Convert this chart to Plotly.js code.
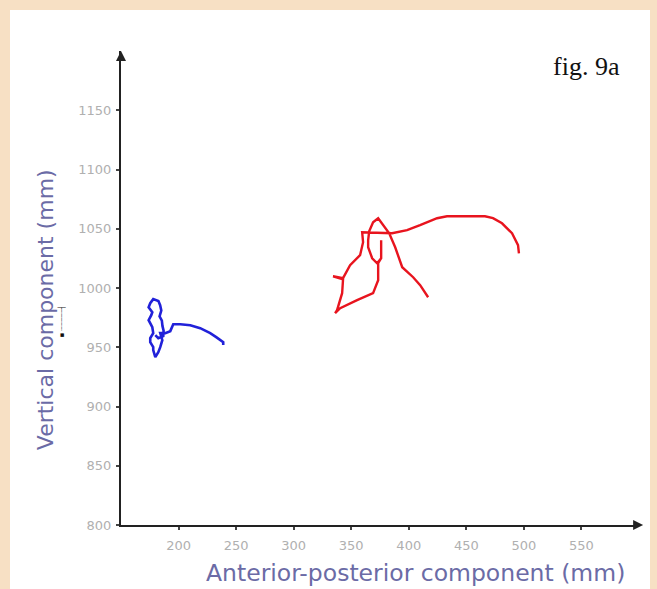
<!DOCTYPE html>
<html>
<head>
<meta charset="utf-8">
<script src="https://cdn.plot.ly/plotly-3.0.1.min.js"></script>
<style>
  html, body { margin: 0; padding: 0; background: #f7e0c4; width: 657px; height: 589px; overflow: hidden; }
  #chart { position: absolute; left: 10px; top: 10px; width: 640px; height: 579px; background: #ffffff; }
</style>
</head>
<body>
<div id="chart"></div>
<script>
// Blue trajectory (anterior-posterior mm, vertical mm)
const blueX = [238.8, 238.8, 232.7, 227.5, 218.8, 210.2, 201.5, 195.4, 192.8, 188.5, 184.1, 185.9, 184.1, 182.4, 179.8, 178.0, 178.0, 175.4, 175.4, 178.0, 177.2, 174.0, 176.3, 177.2, 174.0, 175.4, 178.0, 182.5, 184.0, 185.0, 183.5, 185.5, 186.0, 187.0, 186.7, 182.4, 179.8];
const blueY = [951.8, 954.3, 958.5, 961.9, 966.1, 968.6, 969.4, 969.4, 963.6, 961.9, 961.9, 956.0, 950.1, 945.9, 941.7, 947.6, 950.1, 954.3, 957.7, 961.9, 966.9, 972.8, 977.1, 979.6, 983.8, 987.2, 990.6, 989.0, 985.5, 981.0, 976.0, 972.5, 968.0, 964.0, 959.4, 957.7, 960.2];

// Red trajectory
const redX = [495.7, 494.9, 489.7, 481.0, 473.2, 466.2, 433.2, 424.6, 409.8, 398.5, 385.5, 359.5, 360.3, 357.7, 349.0, 342.9, 334.2, 342.9, 342.1, 337.7, 336.0, 340.4, 355.1, 369.0, 373.4, 373.4, 376.0, 376.0, 376.0, 372.5, 368.2, 364.7, 364.7, 365.6, 369.0, 373.4, 378.6, 383.0, 388.2, 394.3, 403.8, 409.9, 416.8];
const redY = [1029.3, 1036.1, 1046.2, 1054.6, 1058.9, 1060.5, 1060.5, 1058.9, 1053.0, 1048.8, 1046.2, 1047.0, 1038.6, 1027.7, 1019.2, 1008.3, 1009.9, 1007.4, 995.6, 981.3, 978.8, 983.0, 989.7, 995.6, 1006.6, 1020.9, 1025.1, 1040.3, 1025.1, 1020.9, 1025.1, 1034.4, 1040.3, 1047.9, 1055.5, 1058.9, 1052.1, 1046.2, 1034.4, 1017.5, 1009.1, 1002.4, 992.2];

const xTicks = [200, 250, 300, 350, 400, 450, 500, 550];
const yTicks = [800, 850, 900, 950, 1000, 1050, 1100, 1150];

const xTitle = 'Anterior-posterior component (mm)';
const yTitle = 'Vertical component (mm)';
const figLabel = 'fig. 9a';

const traces = [
  { x: blueX, y: blueY, type: 'scatter', mode: 'lines', line: { color: '#2121d9', width: 2.6 }, hoverinfo: 'skip' },
  { x: redX, y: redY, type: 'scatter', mode: 'lines', line: { color: '#e8141e', width: 2.4 }, hoverinfo: 'skip' }
];

const tickFont = { family: 'DejaVu Sans', size: 13, color: '#b0b0b0' };
const titleColor = '#6b6ba6';

const layout = {
  width: 640, height: 579,
  margin: { l: 111, r: 11, t: 41, b: 64 },
  paper_bgcolor: '#ffffff', plot_bgcolor: '#ffffff',
  showlegend: false,
  xaxis: {
    range: [150, 600], tickvals: xTicks, ticktext: xTicks.map(String),
    showgrid: false, zeroline: false, showline: true, linecolor: '#222222', linewidth: 2,
    ticks: 'outside', ticklen: 3, tickwidth: 2, tickcolor: '#444444',
    tickfont: tickFont, ticklabelstandoff: 4, fixedrange: true
  },
  yaxis: {
    range: [800, 1200], tickvals: yTicks, ticktext: yTicks.map(String),
    showgrid: false, zeroline: false, showline: true, linecolor: '#222222', linewidth: 2,
    ticks: 'outside', ticklen: 3, tickwidth: 2, tickcolor: '#444444',
    tickfont: tickFont, ticklabelstandoff: 2, fixedrange: true
  },
  annotations: [
    { xref: 'paper', yref: 'paper', x: 0, y: 1, ax: 0, ay: 10, text: '', showarrow: true,
      arrowhead: 2, arrowsize: 1, arrowwidth: 2, arrowcolor: '#222222' },
    { xref: 'paper', yref: 'paper', x: 1.008, y: 0, ax: -10, ay: 0, text: '', showarrow: true,
      arrowhead: 2, arrowsize: 1, arrowwidth: 2, arrowcolor: '#222222' },
    { xref: 'paper', yref: 'paper', x: 0.568, y: -0.101, xanchor: 'center', yanchor: 'middle',
      text: xTitle, showarrow: false, font: { family: 'DejaVu Sans', size: 23.5, color: titleColor } },
    { xref: 'paper', yref: 'paper', x: -0.146, y: 0.454, xanchor: 'center', yanchor: 'middle',
      text: yTitle, textangle: -90, showarrow: false, font: { family: 'DejaVu Sans', size: 22, color: titleColor } },
    { xref: 'paper', yref: 'paper', x: 0.898, y: 0.968, xanchor: 'center', yanchor: 'middle',
      text: figLabel, showarrow: false, font: { family: 'Liberation Serif', size: 26, color: '#111111' } },
    { xref: 'paper', yref: 'paper', x: -0.115, y: 0.43, xanchor: 'center', yanchor: 'middle',
      text: '\u25AA \u2508\u2508\u2508\u2508\u2508\u2524', textangle: -90, showarrow: false,
      font: { family: 'DejaVu Sans', size: 7, color: '#111111' } }
  ]
};

Plotly.newPlot('chart', traces, layout, { displayModeBar: false, staticPlot: true });
</script>
</body>
</html>
